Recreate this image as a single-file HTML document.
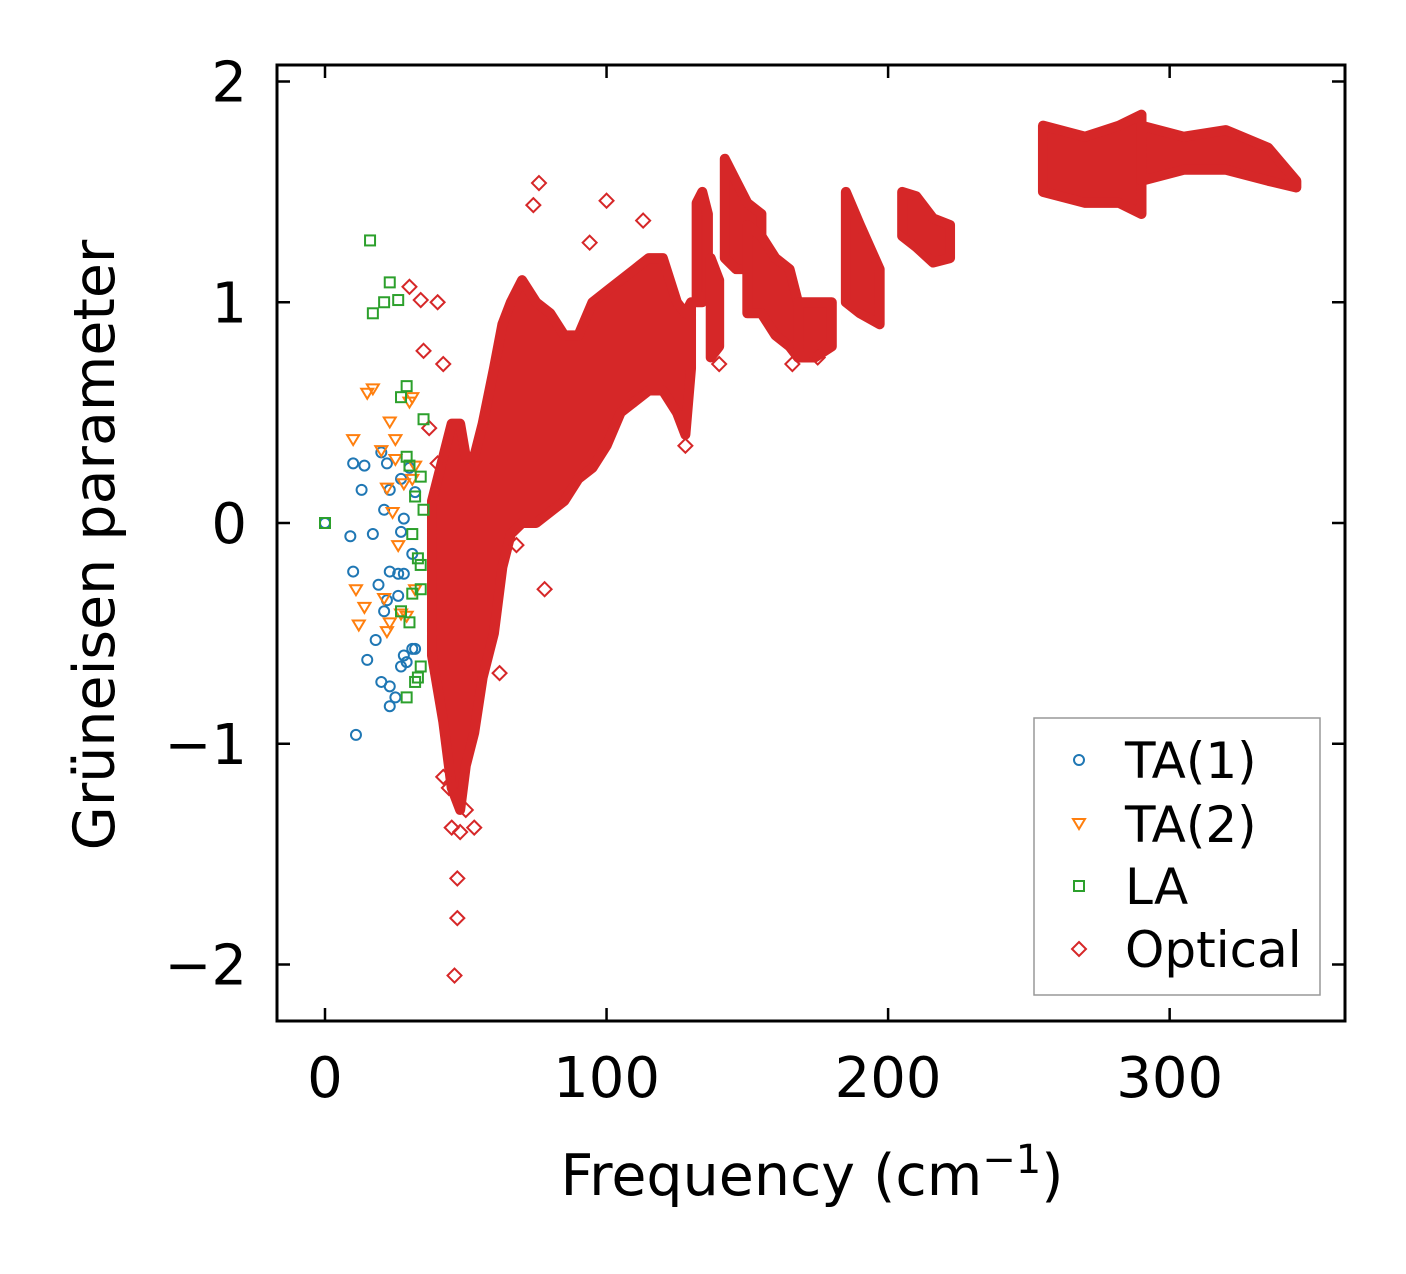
<!DOCTYPE html>
<html><head><meta charset="utf-8"><style>
body{margin:0;background:#fff}
svg text{font-family:"DejaVu Sans","Liberation Sans",sans-serif;fill:#000}
</style></head><body>
<svg id="chart" width="1406" height="1269" xmlns="http://www.w3.org/2000/svg">
<g id="marks"></g>
<rect x="277" y="65" width="1068" height="956" fill="none" stroke="#000" stroke-width="3"/>
<g id="axes"></g>
<text x="812" y="1195" font-size="57" text-anchor="middle">Frequency (cm<tspan dy="-22" font-size="40">−1</tspan><tspan dy="22">)</tspan></text>
<text transform="translate(114,545) rotate(-90)" font-size="57" text-anchor="middle">Grüneisen parameter</text>
<g>
<rect x="1034" y="718" width="286" height="277" fill="#fff" stroke="#999" stroke-width="1.5"/>
<circle cx="1079" cy="760" r="5" fill="none" stroke="#1f77b4" stroke-width="2"/>
<text x="1125" y="778" font-size="50">TA(1)</text>
<path d="M1073,819 L1085,819 L1079,829 Z" fill="none" stroke="#ff7f0e" stroke-width="2"/>
<text x="1125" y="842" font-size="50">TA(2)</text>
<rect x="1074" y="881" width="10" height="10" fill="none" stroke="#2ca02c" stroke-width="2"/>
<text x="1125" y="904" font-size="50">LA</text>
<path d="M1079,942 L1086,949 L1079,956 L1072,949 Z" fill="none" stroke="#d62728" stroke-width="2"/>
<text x="1125" y="967" font-size="50">Optical</text>
</g>
</svg>
<script>
const xTicks=[0,100,200,300];
const yTicks=[-2,-1,0,1,2];
const yTickLabels=["−2","−1","0","1","2"];
const ta1X=[0,9,10,10,11,13,14,15,17,18,19,20,20,21,21,22,22,23,23,23,23,25,26,26,27,27,27,28,28,28,29,30,31,31,32,32];
const ta1Y=[0,-0.06,-0.22,0.27,-0.96,0.15,0.26,-0.62,-0.05,-0.53,-0.28,-0.72,0.32,0.06,-0.4,-0.35,0.27,0.15,-0.22,-0.74,-0.83,-0.79,-0.33,-0.23,-0.04,0.2,-0.65,-0.6,0.02,-0.23,-0.63,0.25,-0.14,-0.57,0.14,-0.57];
const ta2X=[10,11,12,14,15,17,20,21,22,22,23,23,24,25,25,26,27,28,29,30,31,31,32,32];
const ta2Y=[0.38,-0.3,-0.46,-0.38,0.59,0.61,0.33,-0.34,-0.49,0.16,0.46,-0.45,0.05,0.29,0.38,-0.1,-0.41,0.18,-0.42,0.55,0.57,0.2,-0.3,0.26];
const laX=[0,16,17,21,23,26,27,27,29,29,29,30,30,31,31,32,32,33,34,34,34,35,34,33,35];
const laY=[0,1.28,0.95,1.0,1.09,1.01,0.57,-0.4,0.62,0.3,-0.79,0.26,-0.45,-0.05,-0.32,0.12,-0.72,-0.7,0.21,-0.3,-0.19,0.47,-0.65,-0.16,0.06];
const opticalSeg=[0,0,0,0,0,0,0,0,0,0,0,0,0,0,0,0,0,0,0,0,0,0,0,0, 1,1,1, 2,2, 3,3,3,3, 4,4,4,4,4, 5,5,5, 6,6,6, 7,7,7,7, 8,8,8,8, 9,9,9,9,9];
const opticalX=[38,42,45,48,50,53,56,60,63,66,70,75,80,85,90,95,100,105,110,115,120,125,128,130, 132,134,136, 137,140, 142,146,150,155, 150,155,160,165,168, 168,174,180, 185,190,197, 205,210,216,222, 255,270,282,290, 290,305,320,335,345];
const opticalLo=[-0.6,-0.9,-1.2,-1.3,-1.1,-0.95,-0.7,-0.5,-0.2,-0.05,0.0,0.0,0.05,0.1,0.2,0.25,0.35,0.5,0.55,0.6,0.6,0.5,0.4,0.7, 1.0,1.0,1.05, 0.75,0.8, 1.2,1.15,1.15,1.05, 0.95,0.95,0.85,0.8,0.75, 0.75,0.75,0.8, 1.0,0.95,0.9, 1.3,1.25,1.18,1.2, 1.5,1.45,1.45,1.4, 1.55,1.6,1.6,1.55,1.52];
const opticalHi=[0.1,0.3,0.45,0.45,0.3,0.3,0.45,0.7,0.9,1.0,1.1,1.0,0.95,0.85,0.85,1.0,1.05,1.1,1.15,1.2,1.2,1.0,0.95,1.0, 1.45,1.5,1.4, 1.2,1.1, 1.65,1.55,1.45,1.4, 1.35,1.3,1.2,1.15,1.0, 1.0,1.0,1.0, 1.5,1.35,1.15, 1.5,1.48,1.38,1.35, 1.8,1.75,1.8,1.85, 1.8,1.75,1.78,1.7,1.55];
const outX=[30,34,35,40,42,37,40,46,47,47,53,45,50,42,76,100,94,74,62,78,68,113,128,140,175,166,48,44];
const outY=[1.07,1.01,0.78,1.0,0.72,0.43,0.27,-2.05,-1.79,-1.61,-1.38,-1.38,-1.3,-1.15,1.54,1.46,1.27,1.44,-0.68,-0.3,-0.1,1.37,0.35,0.72,0.75,0.72,-1.4,-1.2];

const X=v=>325+v*2.8155, Y=v=>523-v*220.75;
const NS="http://www.w3.org/2000/svg";
const marks=document.getElementById('marks'), axes=document.getElementById('axes');
function mk(tag,attrs,parent){const e=document.createElementNS(NS,tag);for(const k in attrs)e.setAttribute(k,attrs[k]);parent.appendChild(e);return e;}
const segs={};
opticalSeg.forEach((s,i)=>{(segs[s]=segs[s]||[]).push(i);});
Object.values(segs).forEach(idx=>{
  const top=idx.map(i=>X(opticalX[i])+','+Y(opticalHi[i]));
  const bot=idx.slice().reverse().map(i=>X(opticalX[i])+','+Y(opticalLo[i]));
  const p=mk('polygon',{points:top.concat(bot).join(' '),fill:'#d62728',stroke:'#d62728','stroke-width':10,'stroke-linejoin':'round'},marks);
  
  
});
outX.forEach((x,i)=>{const cx=X(x),cy=Y(outY[i]);
  const p=mk('path',{d:`M${cx},${cy-7}L${cx+7},${cy}L${cx},${cy+7}L${cx-7},${cy}Z`,fill:'none',stroke:'#d62728','stroke-width':2},marks);
  
  
});
ta1X.forEach((x,i)=>{const c=mk('circle',{cx:X(x),cy:Y(ta1Y[i]),r:5,fill:'none',stroke:'#1f77b4','stroke-width':2},marks);
  
  });
ta2X.forEach((x,i)=>{const cx=X(x),cy=Y(ta2Y[i]);
  const p=mk('path',{d:`M${cx-6},${cy-4}L${cx+6},${cy-4}L${cx},${cy+6}Z`,fill:'none',stroke:'#ff7f0e','stroke-width':2},marks);
  
  });
laX.forEach((x,i)=>{const r=mk('rect',{x:X(x)-5,y:Y(laY[i])-5,width:10,height:10,fill:'none',stroke:'#2ca02c','stroke-width':2},marks);
  
  });
xTicks.forEach(t=>{const x=X(t);
  mk('line',{x1:x,x2:x,y1:1021,y2:1008,stroke:'#000','stroke-width':2.5},axes);
  mk('line',{x1:x,x2:x,y1:65,y2:78,stroke:'#000','stroke-width':2.5},axes);
  const tx=mk('text',{x:x,y:1097,'font-size':56,'text-anchor':'middle'},axes);tx.textContent=t;
  
  });
yTicks.forEach((t,i)=>{const y=Y(t);
  mk('line',{x1:277,x2:290,y1:y,y2:y,stroke:'#000','stroke-width':2.5},axes);
  mk('line',{x1:1345,x2:1332,y1:y,y2:y,stroke:'#000','stroke-width':2.5},axes);
  const tx=mk('text',{x:247,y:y+20,'font-size':56,'text-anchor':'end'},axes);tx.textContent=yTickLabels[i];
  
  });
</script>
</body></html>
